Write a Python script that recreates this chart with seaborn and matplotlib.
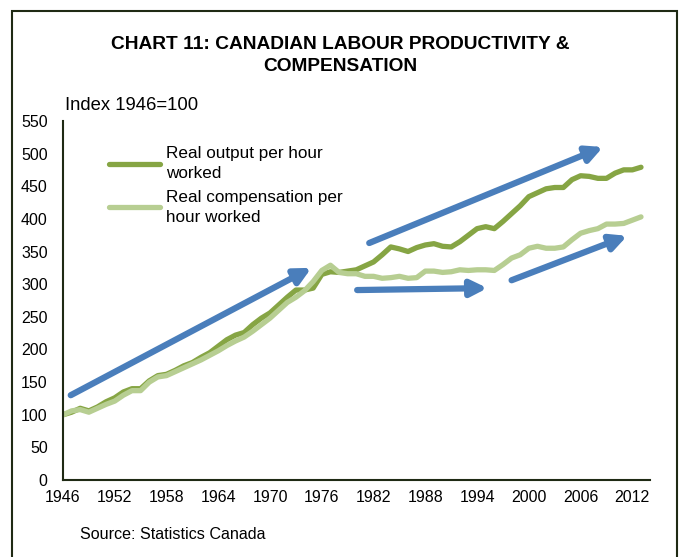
import matplotlib
matplotlib.use("Agg")
import matplotlib.pyplot as plt
from matplotlib.patches import Rectangle
import pandas as pd
import seaborn as sns

years = list(range(1946, 2014))

# Index 1946=100
output_per_hour = [
    100, 104, 110, 106, 112, 120, 126, 135, 140, 140,
    152, 160, 162, 168, 175, 180, 188, 195, 205, 215,
    222, 226, 238, 248, 256, 268, 280, 291, 291, 294,
    315, 319, 318, 320, 322, 328, 334, 345, 357, 354,
    350, 356, 360, 362, 358, 357, 365, 375, 385, 388,
    385, 396, 408, 420, 434, 440, 446, 448, 448, 460,
    466, 465, 462, 462, 470, 475, 475, 479,
]
comp_per_hour = [
    100, 106, 108, 104, 110, 116, 121, 130, 137, 137,
    150, 158, 160, 166, 172, 178, 184, 191, 198, 206,
    213, 219, 228, 238, 248, 260, 272, 280, 290, 304,
    321, 329, 318, 316, 316, 312, 312, 309, 310, 312,
    309, 310, 320, 320, 318, 319, 322, 321, 322, 322,
    321, 330, 340, 345, 355, 358, 355, 355, 357, 368,
    378, 382, 385, 392, 392, 393, 398, 403,
]
series_names = ["Real output per hour\nworked", "Real compensation per\nhour worked"]
line_colors = ["#86A544", "#B7CE92"]

# trend arrows: (start year, start value, end year, end value)
arrow_x0 = [1946.9, 1981.5, 1980.1, 1998.0]
arrow_y0 = [130, 363, 291, 306]
arrow_x1 = [1974.8, 2008.6, 1995.2, 2011.4]
arrow_y1 = [325, 510, 294, 374]

x_ticks = list(range(1946, 2013, 6))
y_ticks = list(range(0, 551, 50))

df = pd.DataFrame({
    "year": years * 2,
    "value": output_per_hour + comp_per_hour,
    "series": [series_names[0]] * len(years) + [series_names[1]] * len(years),
})

sns.set_theme(style="white")
plt.rcParams["font.family"] = ["Liberation Sans", "DejaVu Sans"]
plt.rcParams["text.color"] = "black"

fig = plt.figure(figsize=(6.8, 5.57), dpi=100)
ax = fig.add_axes([0.0926, 0.138, 0.864, 0.645])

sns.lineplot(data=df, x="year", y="value", hue="series", palette=line_colors,
             linewidth=3.8, ax=ax, solid_capstyle="round")

for x0, y0, x1, y1 in zip(arrow_x0, arrow_y0, arrow_x1, arrow_y1):
    ax.annotate("", xy=(x1, y1), xytext=(x0, y0),
                arrowprops=dict(arrowstyle="-|>,head_length=0.8,head_width=0.4",
                                color="#4A7EBB", lw=4.5, shrinkA=0, shrinkB=0))

ax.set_xlim(1946, 2014.1)
ax.set_ylim(0, 550)
ax.set_xticks(x_ticks)
ax.set_yticks(y_ticks)
ax.tick_params(axis="y", labelsize=11.5, length=0, pad=11, colors="black")
ax.tick_params(axis="x", labelsize=11.5, length=0, pad=7, colors="black")
ax.set_xlabel("")
ax.set_ylabel("")
for side in ["top", "right"]:
    ax.spines[side].set_visible(False)
for side in ["left", "bottom"]:
    ax.spines[side].set_color("#1F2A14")
    ax.spines[side].set_linewidth(1.5)

leg = ax.legend(loc="upper left", bbox_to_anchor=(0.066, 0.948), frameon=False,
                fontsize=12.3, handlelength=3.0, handletextpad=0.35,
                labelspacing=0.5, borderaxespad=0)
for t in leg.get_texts():
    t.set_linespacing(1.4)

fig.text(0.5, 0.9, "CHART 11: CANADIAN LABOUR PRODUCTIVITY &\nCOMPENSATION",
         ha="center", va="center", fontsize=13.8, fontweight="bold", linespacing=1.35)
fig.text(0.096, 0.81, "Index 1946=100", ha="left", va="center", fontsize=13.3)
fig.text(0.118, 0.04, "Source: Statistics Canada", ha="left", va="center", fontsize=11.6)

fig.add_artist(Rectangle((12 / 680, -0.05), 665 / 680, 1.03, transform=fig.transFigure,
                         fill=False, edgecolor="#1F2A14", linewidth=1.5, clip_on=False))

fig.savefig("out.png", dpi=100)
plt.close(fig)
